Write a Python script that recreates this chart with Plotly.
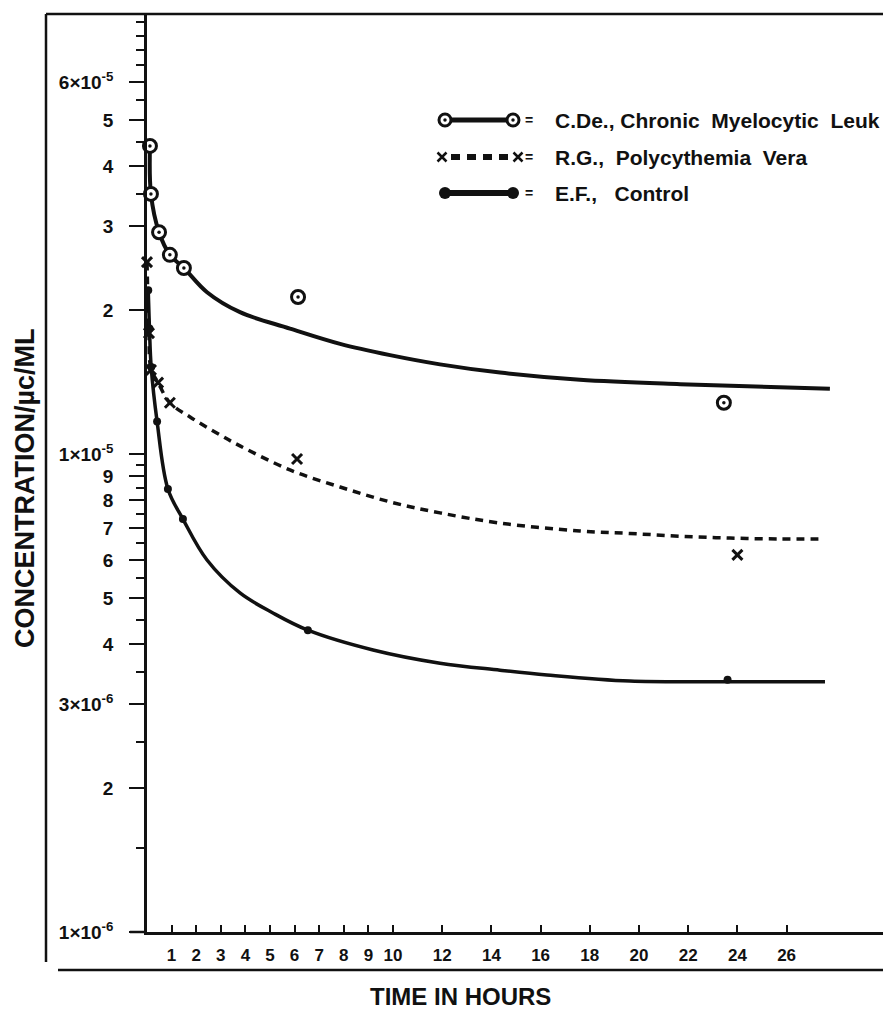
import plotly.graph_objects as go

# ---------------- data ----------------
# C.De., Chronic Myelocytic Leukemia
cde_curve_t = [0.12, 0.16, 0.49, 0.93, 1.50, 2.44, 3.78, 5.81, 7.85, 9.88, 11.91, 14.35, 17.6, 21.67, 25.7, 27.76]
cde_curve_v = [4.41e-5, 3.50e-5, 2.91e-5, 2.61e-5, 2.45e-5, 2.18e-5, 1.98e-5, 1.83e-5, 1.70e-5, 1.61e-5,
               1.54e-5, 1.48e-5, 1.43e-5, 1.40e-5, 1.38e-5, 1.37e-5]
cde_pts_t = [0.12, 0.16, 0.49, 0.93, 1.50, 6.14, 23.45]
cde_pts_v = [4.41e-5, 3.50e-5, 2.91e-5, 2.61e-5, 2.45e-5, 2.13e-5, 1.28e-5]

# R.G., Polycythemia Vera
rg_curve_t = [0.0, 0.08, 0.16, 0.45, 0.93, 1.75, 3.05, 3.78, 5.81, 7.85, 9.88, 11.91, 14.35, 17.6, 19.63,
              21.67, 23.7, 25.73, 27.48]
rg_curve_v = [2.52e-5, 1.79e-5, 1.51e-5, 1.41e-5, 1.28e-5, 1.195e-5, 1.09e-5, 1.04e-5, 9.26e-6, 8.53e-6,
              7.94e-6, 7.53e-6, 7.17e-6, 6.90e-6, 6.82e-6, 6.73e-6, 6.67e-6, 6.64e-6, 6.64e-6]
rg_pts_t = [0.0, 0.08, 0.16, 0.45, 0.93, 6.1, 24.0]
rg_pts_v = [2.52e-5, 1.79e-5, 1.50e-5, 1.41e-5, 1.28e-5, 9.76e-6, 6.15e-6]

# E.F., Control
ef_curve_t = [0.05, 0.10, 0.17, 0.41, 0.85, 1.46, 2.44, 3.78, 5.12, 6.54, 9.19, 11.91, 14.35, 16.26, 19.63,
              23.6, 27.56]
ef_curve_v = [2.2e-5, 1.83e-5, 1.52e-5, 1.17e-5, 8.45e-6, 7.31e-6, 6.00e-6, 5.12e-6, 4.65e-6, 4.28e-6,
              3.89e-6, 3.65e-6, 3.53e-6, 3.45e-6, 3.35e-6, 3.34e-6, 3.34e-6]
ef_pts_t = [0.05, 0.10, 0.17, 0.41, 0.85, 1.46, 6.54, 23.6]
ef_pts_v = [2.2e-5, 1.83e-5, 1.52e-5, 1.17e-5, 8.45e-6, 7.31e-6, 4.28e-6, 3.37e-6]

series_names = ["C.De.,\u00a0Chronic\u00a0\u00a0Myelocytic\u00a0\u00a0Leuk",
                "R.G.,\u00a0\u00a0Polycythemia\u00a0\u00a0Vera",
                "E.F.,\u00a0\u00a0\u00a0Control"]

# axis ticks
xtick_vals = [1, 2, 3, 4, 5, 6, 7, 8, 9, 10, 12, 14, 16, 18, 20, 22, 24, 26]
xtick_text = [str(v) for v in xtick_vals]
ytick_vals = [1e-6, 2e-6, 3e-6, 4e-6, 5e-6, 6e-6, 7e-6, 8e-6, 9e-6,
              1e-5, 2e-5, 3e-5, 4e-5, 5e-5, 6e-5]
ytick_text = ["1×10<sup>-6</sup>", "2", "3×10<sup>-6</sup>", "4", "5", "6", "7", "8", "9",
              "1×10<sup>-5</sup>", "2", "3", "4", "5", "6×10<sup>-5</sup>"]
ytick_minor = [1.5e-6, 2.5e-6, 3.5e-6, 4.5e-6, 5.5e-6, 6.5e-6, 7.5e-6, 8.5e-6, 9.5e-6,
               3.5e-5, 4.5e-5, 5.5e-5, 6.5e-5, 7e-5, 7.5e-5, 8e-5]

x_title = "TIME IN HOURS"
y_title = "CONCENTRATION/µc/ML"

# ---------------- layout geometry ----------------
# the page body has an 8px margin; the figure is sized so that it fills the window
OFF = 8
W, H = 891 - OFF, 1011 - OFF
L, R, T, B = 147 - OFF, 0, 14 - OFF, (1011 - 932)
PW, PH = W - L - R, H - T - B
HOURS_PER_PX = 1 / 24.6
X_MAX = PW * HOURS_PER_PX
Y_TOP = -6 + PH / 478.0

FONT = "Liberation Sans"
BLACK = "#111111"


def xp(px):
    """page x pixel -> paper coordinate"""
    return (px - 147) / PW


def yp(py):
    """page y pixel -> paper coordinate"""
    return (932 - py) / PH


fig = go.Figure()

spl = dict(shape="spline", smoothing=1.0)
# curves
fig.add_trace(go.Scatter(x=cde_curve_t, y=cde_curve_v, mode="lines",
                         line=dict(color=BLACK, width=4, **spl),
                         hoverinfo="skip", showlegend=False))
fig.add_trace(go.Scatter(x=rg_curve_t, y=rg_curve_v, mode="lines",
                         line=dict(color=BLACK, width=3.5, dash="8px,6px", **spl),
                         hoverinfo="skip", showlegend=False))
fig.add_trace(go.Scatter(x=ef_curve_t, y=ef_curve_v, mode="lines",
                         line=dict(color=BLACK, width=3.5, **spl),
                         hoverinfo="skip", showlegend=False))

# data points
fig.add_trace(go.Scatter(x=cde_pts_t, y=cde_pts_v, mode="markers", cliponaxis=False,
                         marker=dict(symbol="circle", size=13, color="white",
                                     line=dict(color=BLACK, width=3)),
                         name=series_names[0], showlegend=False))
fig.add_trace(go.Scatter(x=cde_pts_t, y=cde_pts_v, mode="markers", cliponaxis=False,
                         marker=dict(symbol="circle", size=3.5, color=BLACK),
                         hoverinfo="skip", showlegend=False))
fig.add_trace(go.Scatter(x=rg_pts_t, y=rg_pts_v, mode="markers", cliponaxis=False,
                         marker=dict(symbol="x-thin", size=10, color=BLACK,
                                     line=dict(color=BLACK, width=3)),
                         name=series_names[1], showlegend=False))
fig.add_trace(go.Scatter(x=ef_pts_t, y=ef_pts_v, mode="markers", cliponaxis=False,
                         marker=dict(symbol="circle", size=8, color=BLACK),
                         name=series_names[2], showlegend=False))

# ---------------- hand-drawn legend (overlay axes = paper coords) ----------------
leg_rows = [120, 157, 193]
lx0, lx1 = xp(445), xp(513)
# row 1: open circle - solid - open circle
fig.add_trace(go.Scatter(x=[lx0, lx1], y=[yp(leg_rows[0])] * 2, xaxis="x2", yaxis="y2",
                         mode="lines+markers", line=dict(color=BLACK, width=5),
                         marker=dict(symbol="circle", size=12, color="white",
                                     line=dict(color=BLACK, width=3)),
                         hoverinfo="skip", showlegend=False, cliponaxis=False))
fig.add_trace(go.Scatter(x=[lx0, lx1], y=[yp(leg_rows[0])] * 2, xaxis="x2", yaxis="y2",
                         mode="markers", marker=dict(symbol="circle", size=3.5, color=BLACK),
                         hoverinfo="skip", showlegend=False, cliponaxis=False))
# row 2: X - dashed - X
fig.add_trace(go.Scatter(x=[xp(451), xp(511)], y=[yp(leg_rows[1])] * 2, xaxis="x2", yaxis="y2",
                         mode="lines", line=dict(color=BLACK, width=6, dash="9px,7px"),
                         hoverinfo="skip", showlegend=False, cliponaxis=False))
fig.add_trace(go.Scatter(x=[xp(442), xp(518)], y=[yp(leg_rows[1])] * 2, xaxis="x2", yaxis="y2",
                         mode="markers", marker=dict(symbol="x-thin", size=9, color=BLACK,
                                                     line=dict(color=BLACK, width=2.5)),
                         hoverinfo="skip", showlegend=False, cliponaxis=False))
# row 3: dot - solid - dot
fig.add_trace(go.Scatter(x=[lx0, lx1], y=[yp(leg_rows[2])] * 2, xaxis="x2", yaxis="y2",
                         mode="lines+markers", line=dict(color=BLACK, width=6),
                         marker=dict(symbol="circle", size=12, color=BLACK),
                         hoverinfo="skip", showlegend=False, cliponaxis=False))

annotations = []
for row, name in zip(leg_rows, series_names):
    annotations.append(dict(x=xp(529), y=yp(row), xref="paper", yref="paper", text="<b>=</b>",
                            showarrow=False, xanchor="center", yanchor="middle",
                            font=dict(family=FONT, size=14, color=BLACK)))
    annotations.append(dict(x=xp(553), y=yp(row), xref="paper", yref="paper", text=name,
                            showarrow=False, xanchor="left", yanchor="middle",
                            font=dict(family=FONT, size=21, color=BLACK, weight="bold")))

annotations.append(dict(x=xp(460), y=yp(996), xref="paper", yref="paper", text=x_title,
                        showarrow=False, xanchor="center", yanchor="middle",
                        font=dict(family=FONT, size=24, color=BLACK, weight="bold")))
annotations.append(dict(x=xp(25), y=yp(488), xref="paper", yref="paper", text=y_title,
                        showarrow=False, xanchor="center", yanchor="middle", textangle=-90,
                        font=dict(family=FONT, size=27, color=BLACK, weight="bold")))

# frame lines of the figure
line_style = dict(color=BLACK, width=2.5)
shapes = [
    dict(type="line", xref="paper", yref="paper", x0=xp(46), x1=xp(891), y0=yp(14), y1=yp(14), line=line_style),
    dict(type="line", xref="paper", yref="paper", x0=xp(46), x1=xp(46), y0=yp(14), y1=yp(962), line=line_style),
    dict(type="line", xref="paper", yref="paper", x0=xp(58), x1=xp(891), y0=yp(970), y1=yp(970), line=line_style),
    dict(type="line", xref="paper", yref="paper", x0=xp(887), x1=xp(887), y0=yp(14), y1=yp(970),
         line=dict(color=BLACK, width=2)),
    dict(type="line", xref="paper", yref="paper", x0=xp(130), x1=xp(147), y0=yp(932), y1=yp(932), line=line_style),
]

fig.update_layout(
    width=W, height=H,
    margin=dict(l=L, r=R, t=T, b=B, pad=0),
    paper_bgcolor="white", plot_bgcolor="white",
    showlegend=False,
    annotations=annotations,
    shapes=shapes,
    xaxis=dict(range=[0, X_MAX], tickmode="array", tickvals=xtick_vals, ticktext=xtick_text,
               ticks="inside", ticklen=7, tickwidth=2, tickcolor=BLACK,
               showline=True, linewidth=2.5, linecolor=BLACK, showgrid=False, zeroline=False,
               tickfont=dict(family=FONT, size=17, color=BLACK, weight="bold"), ticklabelstandoff=6),
    yaxis=dict(type="log", range=[-6, Y_TOP], tickmode="array", tickvals=ytick_vals, ticktext=ytick_text,
               ticks="outside", ticklen=15, tickwidth=2, tickcolor=BLACK,
               showline=True, linewidth=2.5, linecolor=BLACK, showgrid=False, zeroline=False,
               tickfont=dict(family=FONT, size=19, color=BLACK, weight="bold"), ticklabelstandoff=12,
               minor=dict(tickmode="array", tickvals=ytick_minor, ticks="outside", ticklen=8,
                          tickwidth=2, tickcolor=BLACK, showgrid=False)),
    xaxis2=dict(domain=[0, 1], range=[0, 1], overlaying="x", anchor="y2", visible=False, fixedrange=True),
    yaxis2=dict(domain=[0, 1], range=[0, 1], overlaying="y", anchor="x2", visible=False, fixedrange=True),
)

fig.write_html("out.html")
